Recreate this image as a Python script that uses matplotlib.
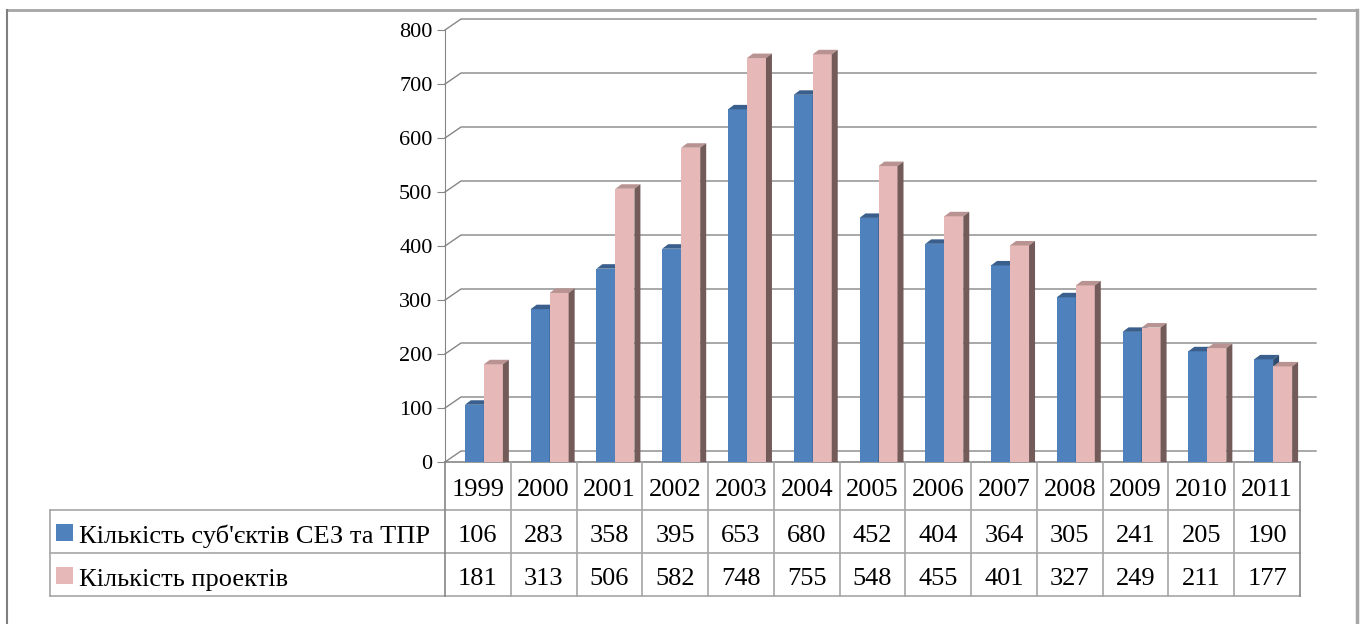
import matplotlib
matplotlib.use("Agg")
from matplotlib import pyplot as plt
from matplotlib.patches import Polygon, Rectangle
from matplotlib.lines import Line2D

plt.rcParams["font.family"] = ["Liberation Serif", "DejaVu Serif"]

years = ["1999", "2000", "2001", "2002", "2003", "2004", "2005",
         "2006", "2007", "2008", "2009", "2010", "2011"]
subjects = [106, 283, 358, 395, 653, 680, 452, 404, 364, 305, 241, 205, 190]
projects = [181, 313, 506, 582, 748, 755, 548, 455, 401, 327, 249, 211, 177]
series_names = ["Кількість суб'єктів СЕЗ та ТПР", "Кількість проектів"]
y_ticks = [0, 100, 200, 300, 400, 500, 600, 700, 800]

W, H = 1360, 624
BLUE, BLUE_TOP, BLUE_SIDE = "#4F81BD", "#3A5F8C", "#2E4B70"
PINK, PINK_TOP, PINK_SIDE = "#E6B9B8", "#B89391", "#735B5A"
GRID = "#868686"
TABLE_LINE = "#A6A6A6"
TABLE_FS = 19


def fx(px):
    return px / W


def fy(py):
    # pixel measured from the top edge -> figure fraction
    return 1 - py / H


fig = plt.figure(figsize=(W / 100, H / 100), dpi=100)

# front plane of the plot: x 445..1300, y 462..30 (pixels from top)
left, right, bottom, top = 445, 1300, 462, 30
ax = fig.add_axes([fx(left), fy(bottom), fx(right - left), (bottom - top) / H])
n = len(years)
ax.set_xlim(-0.5, n - 0.5)
ax.set_ylim(0, 800)
px_x = (right - left) / n          # pixels per category
px_y = (bottom - top) / 800        # pixels per unit

for s in ["top", "right", "bottom"]:
    ax.spines[s].set_visible(False)
ax.spines["left"].set_color(GRID)
ax.set_xticks([])
ax.set_yticks(y_ticks)
ax.tick_params(axis="y", length=6, color=GRID, labelsize=16, pad=3)

# floor/wall depth of the 3D frame
wall_dx = 16 / px_x
wall_dy = 11 / px_y
for v in y_ticks:
    ax.plot([-0.5, -0.5 + wall_dx, n - 0.5 + wall_dx],
            [v, v + wall_dy, v + wall_dy],
            color=GRID, lw=1, clip_on=False, zorder=1)
ax.plot([-0.5, n - 0.5], [0, 0], color=GRID, lw=1.2, clip_on=False, zorder=1)

# bars with a shallow top and side face
bar_w = 19 / px_x
bar_dx = 6 / px_x
bar_dy = 4.5 / px_y
offsets = [-13 / px_x, 6 / px_x]
styles = [(BLUE, BLUE_TOP, BLUE_SIDE), (PINK, PINK_TOP, PINK_SIDE)]
for k, (vals, (front, topc, side)) in enumerate(zip([subjects, projects], styles)):
    xs = [i + offsets[k] for i in range(n)]
    ax.bar(xs, vals, width=bar_w, align="edge", color=front, lw=0,
           zorder=2 + k, clip_on=False)
    for x0, h in zip(xs, vals):
        x1 = x0 + bar_w
        ax.add_patch(Polygon([(x0, h), (x1, h), (x1 + bar_dx, h + bar_dy),
                              (x0 + bar_dx, h + bar_dy)],
                             closed=True, fc=topc, lw=0, zorder=2 + k,
                             clip_on=False))
        ax.add_patch(Polygon([(x1, 0), (x1 + bar_dx, 0),
                              (x1 + bar_dx, h + bar_dy), (x1, h)],
                             closed=True, fc=side, lw=0, zorder=2 + k,
                             clip_on=False))

# data table under the plot
row_lines = [462, 510, 553, 596]
legend_left = 50
for py in row_lines[1:]:
    fig.add_artist(Line2D([fx(legend_left), fx(right)], [fy(py), fy(py)],
                          color=TABLE_LINE, lw=1.2))
fig.add_artist(Line2D([fx(legend_left)] * 2, [fy(row_lines[1]), fy(row_lines[-1])],
                      color=TABLE_LINE, lw=1.2))
for i in range(n + 1):
    xb = fx(left + i * px_x)
    fig.add_artist(Line2D([xb, xb], [fy(row_lines[0]), fy(row_lines[-1])],
                          color=TABLE_LINE if 0 < i < n else GRID, lw=1.2))

# text baselines of the three table rows
baselines = [496, 542, 585]
for i in range(n):
    cx = fx(left + (i + 0.5) * px_x)
    for row, label in zip(baselines, [years[i], str(subjects[i]), str(projects[i])]):
        fig.text(cx, fy(row), label, ha="center", va="baseline", fontsize=TABLE_FS)

for name, color, base in zip(series_names, [BLUE, PINK], baselines[1:]):
    fig.add_artist(Rectangle((fx(56), fy(base - 1)), fx(17), 17 / H, fc=color, lw=0))
    fig.text(fx(79), fy(base + 1), name, ha="left", va="baseline", fontsize=TABLE_FS)

# outer frame
fig.add_artist(Line2D([fx(7), fx(1357)], [fy(10), fy(10)], color="#A6A6A6", lw=2))
fig.add_artist(Line2D([fx(7), fx(7)], [fy(10), 0], color="#808080", lw=1.5))
fig.add_artist(Line2D([fx(1357), fx(1357)], [fy(10), 0], color="#A6A6A6", lw=2.5))

fig.savefig("out.png", dpi=100)
